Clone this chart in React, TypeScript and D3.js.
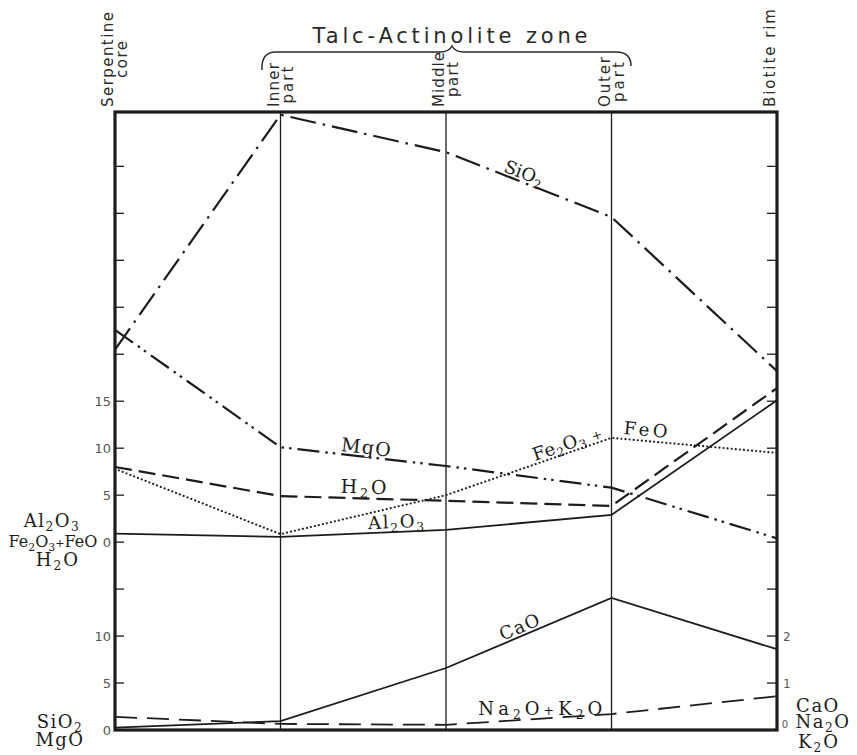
import React from 'react';
import * as d3 from 'd3';

// ---- data ----
const stages = ['Serpentine core', 'Inner part', 'Middle part', 'Outer part', 'Biotite rim'];
const headerLines = [['Serpentine', 'core'], ['Inner', 'part'], ['Middle', 'part'], ['Outer', 'part'], ['Biotite rim']];
// left lower scale (SiO2, MgO), wt %
const sio2 = [40.5, 65.5, 61.5, 54.6, 38.2];
const mgo = [42.6, 30.1, 28.1, 25.8, 20.4];
// left upper scale (Al2O3, Fe2O3+FeO, H2O), wt %
const al2o3 = [0.9, 0.55, 1.3, 2.9, 15.1];
const feTotal = [7.8, 0.85, 5.0, 11.1, 9.5];
const h2o = [8.0, 4.9, 4.4, 3.85, 16.4];
// right scale (CaO, Na2O+K2O), wt %
const cao = [0.05, 0.19, 1.32, 2.81, 1.72];
const naK = [0.28, 0.13, 0.11, 0.34, 0.72];
// tick labels
const lowerLeftTickLabels = [0, 5, 10];
const upperLeftTickLabels = [0, 5, 10, 15];
const rightTickLabels = [1, 2];

// ---- layout ----
const W = 857, H = 755;
const L = 115, R = 777, T = 112, B = 730;
const pxPerUnit = 9.394;
const topUnits = (B - 110) / pxPerUnit; // 66
const upperOffset = 20;
const ink = '#1c1c1c';
const serif = '"DejaVu Serif", "Liberation Serif", serif';
const sans = '"DejaVu Sans", "Liberation Sans", sans-serif';

const x = d3.scalePoint<string>().domain(stages).range([L, R]);
const yMain = d3.scaleLinear().domain([0, topUnits]).range([B, 110]);
const yUpper = d3.scaleLinear().domain([-upperOffset, topUnits - upperOffset]).range([B, 110]);
const yRight = d3.scaleLinear().domain([0, topUnits / 5]).range([B, 110]);

type Scale = d3.ScaleLinear<number, number>;

function Formula({ text, size }: { text: string; size: number }) {
  const parts = text.match(/\d+|\+|[^\d+]+/g) || [];
  let prevSub = false;
  const shift = size * 0.22;
  return (
    <>
      {parts.map((p, k) => {
        const isSub = /\d/.test(p);
        const dy = isSub ? shift : prevSub ? -shift : 0;
        prevSub = isSub;
        const fs = isSub ? size * 0.68 : p === '+' ? size * 0.7 : size;
        return (
          <tspan key={k} dy={dy} fontSize={fs}>
            {p}
          </tspan>
        );
      })}
    </>
  );
}

const series = [
  { key: 'SiO2', values: sio2, scale: yMain, dash: '26 7 2.5 7', width: 2.2, cap: 'butt' },
  { key: 'MgO', values: mgo, scale: yMain, dash: '22 6 2.5 5 2.5 6', width: 2.2, cap: 'butt' },
  { key: 'Al2O3', values: al2o3, scale: yUpper, dash: null, width: 1.8, cap: 'butt' },
  { key: 'H2O', values: h2o, scale: yUpper, dash: '17 7', width: 2.2, cap: 'butt' },
  { key: 'Fe', values: feTotal, scale: yUpper, dash: '0.1 4', width: 2.1, cap: 'round' },
  { key: 'CaO', values: cao, scale: yRight, dash: null, width: 1.8, cap: 'butt' },
  { key: 'NaK', values: naK, scale: yRight, dash: '22 10', width: 1.8, cap: 'butt' },
];

const lineLabels = [
  { text: 'SiO2', values: sio2, scale: yMain, seg: 2, t: 0.45, off: 3, len: 0, fs: 18, angle: null as number | null },
  { text: 'MgO', values: mgo, scale: yMain, seg: 1, t: 0.51, off: 3, len: 50, fs: 19, angle: null },
  { text: 'H2O', values: h2o, scale: yUpper, seg: 1, t: 0.5, off: 5, len: 46, fs: 19, angle: null },
  { text: 'Al2O3', values: al2o3, scale: yUpper, seg: 1, t: 0.7, off: 4, len: 56, fs: 18, angle: null },
  { text: 'Fe2O3 +', values: feTotal, scale: yUpper, seg: 2, t: 0.75, off: 3, len: 72, fs: 18, angle: null },
  { text: 'FeO', values: feTotal, scale: yUpper, seg: 3, t: 0.2, off: 5, len: 44, fs: 18, angle: null },
  { text: 'CaO', values: cao, scale: yRight, seg: 2, t: 0.465, off: 3, len: 42, fs: 18, angle: null },
  { text: 'Na2O+K2O', values: naK, scale: yRight, seg: 2, t: 0.57, off: 4, len: 124, fs: 18, angle: 0 },
];

const sideLabels = [
  { t: 'Al2O3', x: 52, y: 527, ls: 1.5, fs: 18 },
  { t: 'Fe2O3+FeO', x: 53, y: 547, ls: 0, fs: 16 },
  { t: 'H2O', x: 58, y: 566, ls: 2, fs: 18 },
  { t: 'SiO2', x: 60, y: 728, ls: 1.5, fs: 18 },
  { t: 'MgO', x: 60, y: 746, ls: 1.5, fs: 18 },
  { t: 'CaO', x: 818, y: 712, ls: 1.5, fs: 18 },
  { t: 'Na2O', x: 823, y: 728, ls: 1.5, fs: 18 },
  { t: 'K2O', x: 819, y: 748, ls: 2, fs: 18 },
];

const headerLens = [[95, 37], [44, 37], [55, 35], [50, 40], [98]];

export default function App() {
  const line = (s: Scale) =>
    d3
      .line<number>()
      .x((_, i) => x(stages[i]) as number)
      .y((v) => s(v));

  const leftTicks = d3.range(5, 61, 5);
  const rightTicks = d3.range(1, 13, 1);

  return (
    <svg width={W} height={H} style={{ position: 'absolute', left: 0, top: 0, display: 'block', background: '#fff' }}>
      <rect x={0} y={0} width={W} height={H} fill="#fff" />

      {/* title and brace */}
      <text x={450} y={43} fontFamily={sans} fontSize={21} textAnchor="middle" fill="#2a2a2a" textLength={275} lengthAdjust="spacing">
        Talc-Actinolite zone
      </text>
      <path
        d="M262,70 Q261,52 276,52 L440,52 Q449,52 452,46 Q455,52 464,52 L616,52 Q631,52 631,66"
        fill="none"
        stroke="#2a2a2a"
        strokeWidth={1.5}
      />

      {/* column headers */}
      {stages.map((s, i) => {
        const lines = headerLines[i];
        const lens = headerLens[i];
        const cx = x(s) as number;
        const cy = 107 - Math.max(...lens) / 2;
        return lines.map((ln, j) => {
          const bx = lines.length === 1 ? cx - 2 : j === 0 ? cx - 2 : cx + 12;
          return (
            <text
              key={s + j}
              transform={`translate(${bx},${cy}) rotate(-90)`}
              fontFamily={sans}
              fontSize={15}
              textAnchor="middle"
              fill="#2a2a2a"
              textLength={lens[j]}
              lengthAdjust="spacing"
            >
              {ln}
            </text>
          );
        });
      })}

      {/* inner vertical lines */}
      {stages.slice(1, 4).map((s) => (
        <line key={s} x1={x(s)} x2={x(s)} y1={T} y2={B} stroke={ink} strokeWidth={1.3} />
      ))}

      {/* ticks */}
      {leftTicks.map((v) => (
        <line key={'lt' + v} x1={L} x2={L + 9} y1={yMain(v)} y2={yMain(v)} stroke={ink} strokeWidth={1.3} />
      ))}
      {rightTicks.map((v) => (
        <line key={'rt' + v} x1={R - 10} x2={R} y1={yRight(v)} y2={yRight(v)} stroke={ink} strokeWidth={1.3} />
      ))}

      {/* tick labels */}
      {upperLeftTickLabels.map((v) => (
        <text key={'ul' + v} x={111} y={yUpper(v) + 5} textAnchor="end" fontFamily={sans} fontSize={13} fill="#555">
          {v}
        </text>
      ))}
      {lowerLeftTickLabels.map((v) => (
        <text key={'ll' + v} x={111} y={yMain(v) + 5} textAnchor="end" fontFamily={sans} fontSize={13} fill="#555">
          {v}
        </text>
      ))}
      {rightTickLabels.map((v) => (
        <text key={'rl' + v} x={783} y={yRight(v) + 4.5} textAnchor="start" fontFamily={sans} fontSize={12} fill="#555">
          {v}
        </text>
      ))}
      <text x={785} y={728} textAnchor="middle" fontFamily={sans} fontSize={10} fill="#555">
        0
      </text>

      {/* series lines */}
      {series.map((s) => (
        <path
          key={s.key}
          d={line(s.scale)(s.values) || ''}
          fill="none"
          stroke={ink}
          strokeWidth={s.width}
          strokeDasharray={s.dash || undefined}
          strokeLinecap={s.cap as any}
        />
      ))}

      {/* line labels */}
      {lineLabels.map((lb) => {
        const x0 = x(stages[lb.seg]) as number;
        const x1 = x(stages[lb.seg + 1]) as number;
        const y0 = lb.scale(lb.values[lb.seg]);
        const y1 = lb.scale(lb.values[lb.seg + 1]);
        const px = x0 + (x1 - x0) * lb.t;
        const py = y0 + (y1 - y0) * lb.t;
        const ang = lb.angle !== null ? lb.angle : (Math.atan2(y1 - y0, x1 - x0) * 180) / Math.PI;
        const lenProps = lb.len ? { textLength: lb.len, lengthAdjust: 'spacing' } : {};
        return (
          <g key={lb.text} transform={`translate(${px},${py}) rotate(${ang})`}>
            <text x={0} y={-lb.off} textAnchor="middle" fontFamily={serif} fontSize={lb.fs} fill={ink} {...lenProps}>
              <Formula text={lb.text} size={lb.fs} />
            </text>
          </g>
        );
      })}

      {/* side labels */}
      {sideLabels.map((s) => (
        <text key={s.t} x={s.x} y={s.y} textAnchor="middle" fontFamily={serif} fontSize={s.fs} fill={ink} letterSpacing={s.ls}>
          <Formula text={s.t} size={s.fs} />
        </text>
      ))}

      {/* frame */}
      <rect x={L} y={T} width={R - L} height={B - T} fill="none" stroke={ink} strokeWidth={3.2} />
    </svg>
  );
}
